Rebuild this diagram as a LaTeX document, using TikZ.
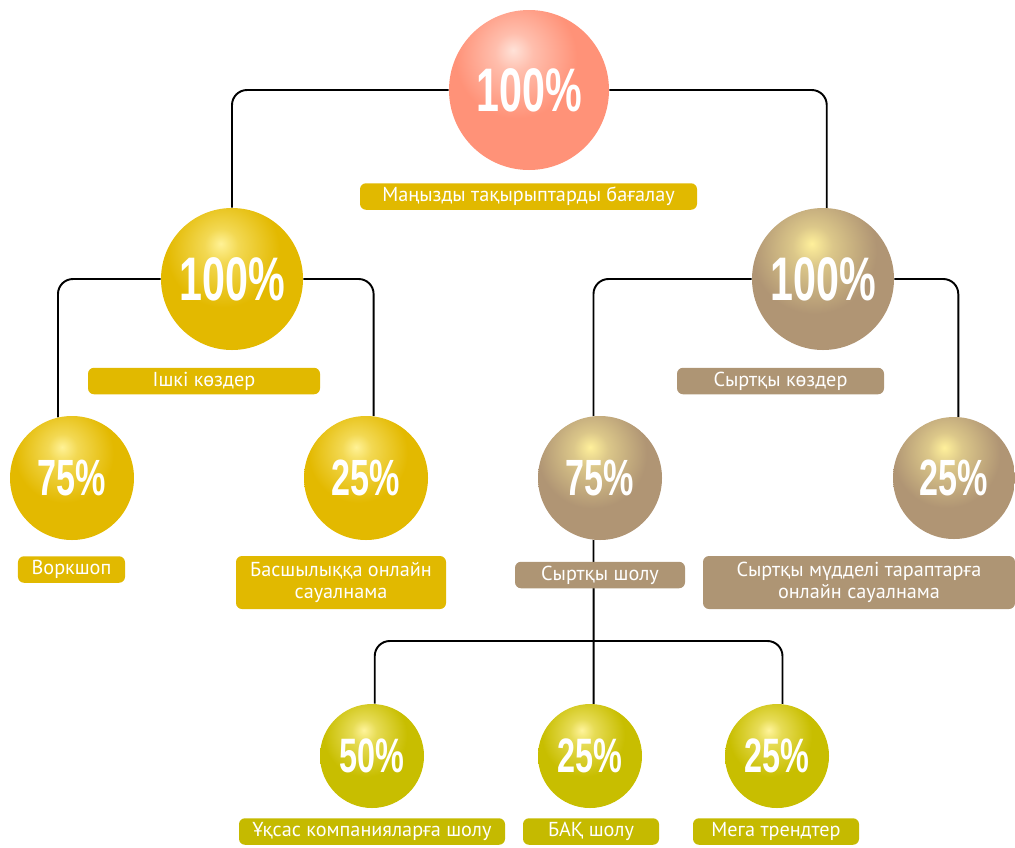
\documentclass[tikz,border=0pt]{standalone}
\usepackage{fontspec}
\setmainfont{PT Sans}
\newfontfamily\pctfont[FakeStretch=0.67]{Liberation Sans}
\pgfdeclarelayer{edgelayer}
\pgfdeclarelayer{nodelayer}
\pgfsetlayers{edgelayer,nodelayer,main}
\definecolor{salmonbase}{RGB}{255,146,120}
\definecolor{salmonhl}{RGB}{255,226,216}
\definecolor{goldbase}{RGB}{227,185,0}
\definecolor{goldhl}{RGB}{255,242,150}
\definecolor{tanbase}{RGB}{176,149,116}
\definecolor{tanhl}{RGB}{255,240,155}
\definecolor{olivebase}{RGB}{200,190,0}
\definecolor{olivehl}{RGB}{255,244,155}
\colorlet{salmonmid}{salmonhl!55!salmonbase}
\colorlet{goldmid}{goldhl!55!goldbase}
\colorlet{tanmid}{tanhl!55!tanbase}
\colorlet{olivemid}{olivehl!55!olivebase}
\definecolor{goldlabel}{RGB}{225,185,0}
\definecolor{tanlabel}{RGB}{174,149,116}
\definecolor{olivelabel}{RGB}{197,186,0}
\pgfdeclareradialshading{salmonshade}{\pgfpoint{-5bp}{12.5bp}}{color(0bp)=(salmonhl); color(6bp)=(salmonmid); color(19bp)=(salmonbase); color(100bp)=(salmonbase)}
\pgfdeclareradialshading{goldshade}{\pgfpoint{-4bp}{12.5bp}}{color(0bp)=(goldhl); color(6bp)=(goldmid); color(20bp)=(goldbase); color(100bp)=(goldbase)}
\pgfdeclareradialshading{tanshade}{\pgfpoint{-4bp}{12.5bp}}{color(0bp)=(tanhl); color(7bp)=(tanmid); color(22bp)=(tanbase); color(100bp)=(tanbase)}
\pgfdeclareradialshading{oliveshade}{\pgfpoint{-4bp}{12.5bp}}{color(0bp)=(olivehl); color(6bp)=(olivemid); color(20bp)=(olivebase); color(100bp)=(olivebase)}
\tikzstyle{ball}=[circle,inner sep=0pt,text=white]
\tikzstyle{bigpct}=[font=\pctfont\bfseries\fontsize{35}{35}\selectfont]
\tikzstyle{midpct}=[font=\pctfont\bfseries\fontsize{29}{29}\selectfont]
\tikzstyle{smallpct}=[font=\pctfont\bfseries\fontsize{27.5}{27.5}\selectfont]
\tikzstyle{topball}=[ball,bigpct,minimum size=3.2cm,shading=salmonshade]
\tikzstyle{goldball}=[ball,minimum size=2.48cm,shading=goldshade]
\tikzstyle{tanball}=[ball,minimum size=2.48cm,shading=tanshade]
\tikzstyle{oliveball}=[ball,smallpct,minimum size=2.08cm,shading=oliveshade]
\tikzstyle{tag}=[rounded corners=0.12cm,inner sep=0pt,text=white,align=center,minimum height=0.53cm,font=\fontsize{11.5}{12.8}\selectfont]
\tikzstyle{goldtag}=[tag,fill=goldlabel]
\tikzstyle{tantag}=[tag,fill=tanlabel]
\tikzstyle{olivetag}=[tag,fill=olivelabel]
\tikzstyle{connector}=[draw=black,line width=1.1pt,rounded corners=0.3cm]

\begin{document}
\begin{tikzpicture}
	\useasboundingbox (0, 0) rectangle (20.3, -16.94);
	\begin{pgfonlayer}{nodelayer}
		\node [style=topball] (0) at (10.58, -1.8) {100\%};
		\node [style=goldball, bigpct, minimum size=2.84cm] (1) at (4.64, -5.58) {100\%};
		\node [style=tanball, bigpct, minimum size=2.84cm] (2) at (16.46, -5.58) {100\%};
		\node [style=goldball, midpct] (3) at (1.44, -9.56) {75\%};
		\node [style=goldball, midpct] (4) at (7.32, -9.56) {25\%};
		\node [style=tanball, midpct] (5) at (12, -9.56) {75\%};
		\node [style=tanball, midpct, minimum size=2.44cm] (6) at (19.08, -9.56) {25\%};
		\node [style=oliveball] (7) at (7.44, -15.12) {50\%};
		\node [style=oliveball] (8) at (11.8, -15.12) {25\%};
		\node [style=oliveball] (9) at (15.54, -15.12) {25\%};
		\node [style=goldtag, minimum width=6.74cm] (10) at (10.57, -3.93) {Маңызды тақырыптарды бағалау};
		\node [style=goldtag, minimum width=4.64cm] (11) at (4.08, -7.62) {Ішкі көздер};
		\node [style=tantag, minimum width=4.14cm] (12) at (15.61, -7.62) {Сыртқы көздер};
		\node [style=goldtag, minimum width=2.14cm] (13) at (1.43, -11.39) {Воркшоп};
		\node [style=goldtag, minimum width=4.2cm, minimum height=1.06cm] (14) at (6.82, -11.65) {Басшылыққа онлайн\\сауалнама};
		\node [style=tantag, minimum width=3.4cm] (15) at (12, -11.5) {Сыртқы шолу};
		\node [style=tantag, minimum width=6.24cm, minimum height=1.06cm] (16) at (17.18, -11.65) {Сыртқы мүдделі тараптарға\\онлайн сауалнама};
		\node [style=olivetag, minimum width=5.32cm] (17) at (7.44, -16.63) {Ұқсас компанияларға шолу};
		\node [style=olivetag, minimum width=2.72cm] (18) at (11.82, -16.63) {БАҚ шолу};
		\node [style=olivetag, minimum width=3.32cm] (19) at (15.52, -16.63) {Мега трендтер};
	\end{pgfonlayer}
	\begin{pgfonlayer}{edgelayer}
		\coordinate (20) at (11.88, -12.82);
		\draw [style=connector] (0.west) -| (1.north);
		\draw [style=connector] (0.east) -| (2.87);
		\draw [style=connector] (1.west) -| (3.103);
		\draw [style=connector] (1.east) -| (4.83);
		\draw [style=connector] (2.west) -| (5.96);
		\draw [style=connector] (2.east) -| (6.86);
		\draw [style=connector] (5.264) -- (8.86);
		\draw [style=connector] (20) -| (7.87);
		\draw [style=connector] (20) -| (9.84);
	\end{pgfonlayer}
\end{tikzpicture}
\end{document}
